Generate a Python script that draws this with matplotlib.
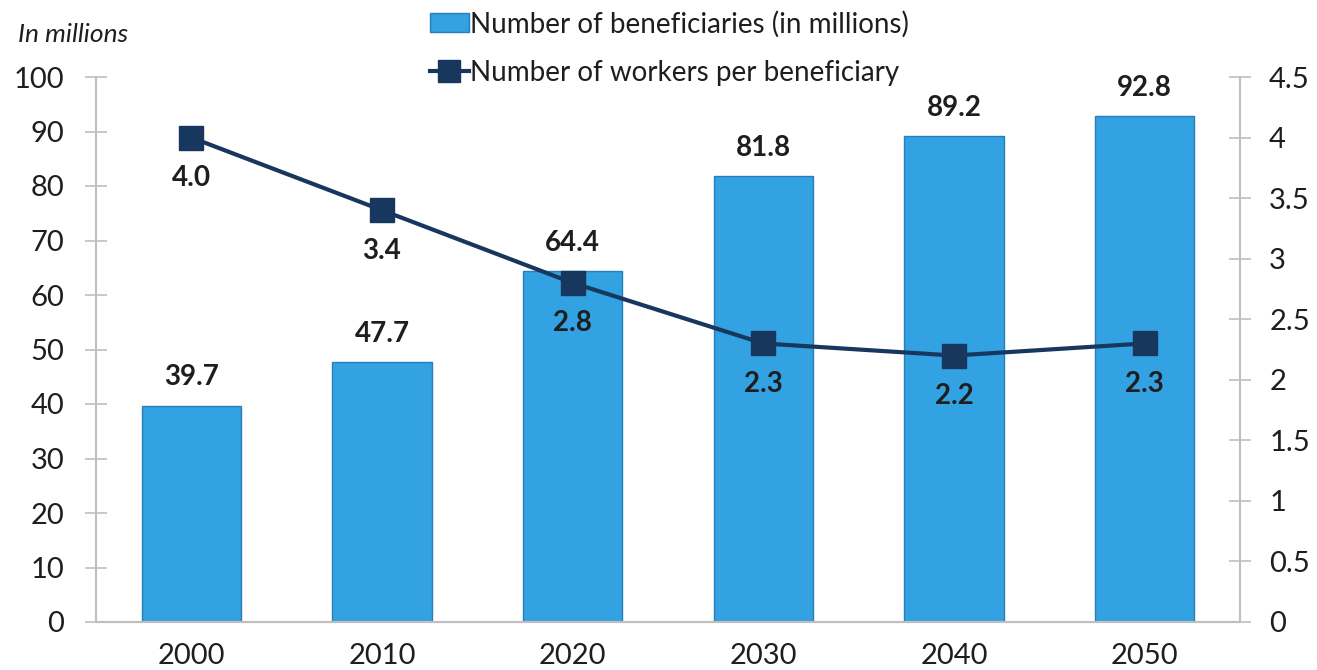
import matplotlib
matplotlib.use("Agg")
import matplotlib.pyplot as plt
from matplotlib.lines import Line2D
from matplotlib.patches import Patch

years = ["2000", "2010", "2020", "2030", "2040", "2050"]
beneficiaries = [39.7, 47.7, 64.4, 81.8, 89.2, 92.8]
workers_per_beneficiary = [4.0, 3.4, 2.8, 2.3, 2.2, 2.3]
left_ticks = [0, 10, 20, 30, 40, 50, 60, 70, 80, 90, 100]
right_ticks = [0, 0.5, 1, 1.5, 2, 2.5, 3, 3.5, 4, 4.5]
right_tick_labels = ["0", "0.5", "1", "1.5", "2", "2.5", "3", "3.5", "4", "4.5"]

plt.rcParams['font.family'] = ['Lato', 'DejaVu Sans']

bar_color = "#32A2E2"
bar_edge = "#2A7DB8"
line_color = "#17375E"
axis_gray = "#BFBFBF"
text_color = "#1E1E1E"

fig = plt.figure(figsize=(13.17, 6.70), dpi=100)
ax = fig.add_axes([96/1317, 1-622/670, (1240-96)/1317, (622-77)/670])
ax2 = ax.twinx()

x = list(range(len(years)))
ax.bar(x, beneficiaries, width=0.52, color=bar_color, edgecolor=bar_edge, linewidth=1.0, zorder=2)
ax.set_xlim(-0.5, len(years) - 0.5)
ax.set_ylim(0, 100)
ax.set_yticks(left_ticks)
ax.set_xticks(x)
ax.set_xticklabels(years)

for xi, v in zip(x, beneficiaries):
    ax.annotate(f"{v:.1f}", (xi, v), xytext=(0, 11), textcoords="offset points",
                ha="center", va="bottom", fontsize=20, fontweight="bold", color=text_color)

ax2.plot(x, workers_per_beneficiary, color=line_color, linewidth=3, marker="s",
         markersize=17, markerfacecolor=line_color, markeredgecolor=line_color, zorder=3)
ax2.set_ylim(0, 4.5)
ax2.set_yticks(right_ticks)
ax2.set_yticklabels(right_tick_labels)

for xi, v in zip(x, workers_per_beneficiary):
    ax2.annotate(f"{v:.1f}", (xi, v), xytext=(0, -29), textcoords="offset points",
                 ha="center", va="center", fontsize=20, fontweight="bold", color=text_color)

for a in (ax, ax2):
    a.spines["top"].set_visible(False)
    for s in ("left", "right", "bottom"):
        a.spines[s].set_color(axis_gray)
        a.spines[s].set_linewidth(1.5)

ax.spines["right"].set_visible(False)
ax2.spines["left"].set_visible(False)

ax.tick_params(axis="y", direction="inout", length=16, width=1.2, color=axis_gray,
               labelsize=21, labelcolor=text_color, pad=15)
ax.tick_params(axis="x", length=0, labelsize=21, labelcolor=text_color, pad=15)
ax2.tick_params(axis="y", direction="inout", length=16, width=1.2, color=axis_gray,
                labelsize=21, labelcolor=text_color, pad=13)

fig.text(18/1317, 1-35/670, "In millions", fontsize=19, style="italic", color=text_color,
         ha="left", va="center")

handles = [Patch(facecolor=bar_color, edgecolor=bar_edge, linewidth=1.0),
           Line2D([0], [0], color=line_color, linewidth=3, marker="s", markersize=16)]
labels = ["Number of beneficiaries (in millions)", "Number of workers per beneficiary"]
fig.legend(handles, labels, loc="upper left", bbox_to_anchor=(416/1317, 1.005),
           frameon=False, fontsize=20, handlelength=1.4, handletextpad=0.05,
           labelspacing=0.8, borderaxespad=0.1, labelcolor=text_color)

fig.savefig("out.png", dpi=100)
